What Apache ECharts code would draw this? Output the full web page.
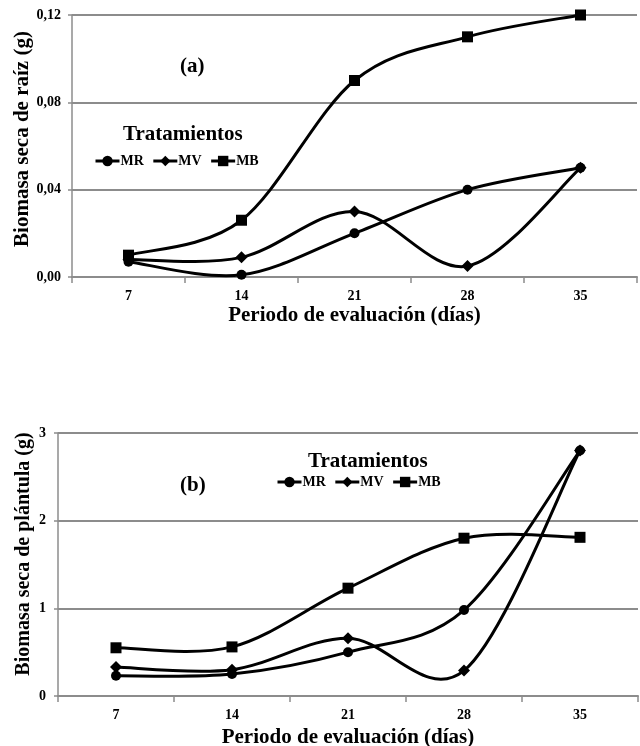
<!DOCTYPE html>
<html>
<head>
<meta charset="utf-8">
<script src="https://cdn.jsdelivr.net/npm/echarts@6/dist/echarts.min.js"></script>
<style>
html,body{margin:0;padding:0;background:#fff;}
#chart{width:640px;height:746px;}
</style>
</head>
<body>
<div id="chart"></div>
<script>
var categories = ['7', '14', '21', '28', '35'];
var seriesNames = ['MR', 'MV', 'MB'];
// (a) Biomasa seca de raíz (g)
var raizMR = [0.007, 0.001, 0.020, 0.040, 0.050];
var raizMV = [0.008, 0.009, 0.030, 0.005, 0.050];
var raizMB = [0.010, 0.026, 0.090, 0.110, 0.120];
// (b) Biomasa seca de plántula (g)
var plantMR = [0.23, 0.25, 0.50, 0.98, 2.80];
var plantMV = [0.33, 0.30, 0.66, 0.29, 2.80];
var plantMB = [0.55, 0.56, 1.23, 1.80, 1.81];

var FONT = '"Liberation Serif", "Times New Roman", serif';
var GRID_COLOR = '#8c8c8c';
var symbols = {MR: 'circle', MV: 'diamond', MB: 'rect'};
var symbolSizes = {MR: 10, MV: 12, MB: 11};

function xAxis(gridIndex, nameGap) {
  return {
    type: 'category', gridIndex: gridIndex, data: categories, boundaryGap: true,
    axisLine: {lineStyle: {color: GRID_COLOR, width: 2}},
    axisTick: {show: true, length: 6, lineStyle: {color: GRID_COLOR, width: 1.5}},
    axisLabel: {color: '#000', fontFamily: FONT, fontWeight: 'bold', fontSize: 14, margin: 12},
    name: 'Periodo de evaluación (días)', nameLocation: 'middle', nameGap: nameGap,
    nameTextStyle: {color: '#000', fontFamily: FONT, fontWeight: 'bold', fontSize: 21}
  };
}
function yAxis(gridIndex, max, interval, fmt, labelMargin) {
  return {
    type: 'value', gridIndex: gridIndex, min: 0, max: max, interval: interval,
    axisLine: {show: true, lineStyle: {color: GRID_COLOR, width: 1.5}},
    axisTick: {show: true, length: 4, lineStyle: {color: GRID_COLOR, width: 1.5}},
    splitLine: {show: true, lineStyle: {color: GRID_COLOR, width: 2}},
    axisLabel: {color: '#000', fontFamily: FONT, fontWeight: 'bold', fontSize: 14, margin: labelMargin, formatter: fmt}
  };
}
function markerSeries(name, data, idx) {
  return {
    name: name, type: 'line', xAxisIndex: idx, yAxisIndex: idx, data: data,
    symbol: symbols[name], symbolSize: symbolSizes[name],
    lineStyle: {color: '#000', width: 3, opacity: 0}, itemStyle: {color: '#000'},
    z: 4
  };
}
// Smooth curve (Catmull-Rom, like a spreadsheet "smoothed line") drawn through the axis scales
function curveSeries(name, data, idx) {
  return {
    name: name + ' curve', type: 'custom', xAxisIndex: idx, yAxisIndex: idx,
    data: data.map(function(v, i){ return [i, v]; }),
    encode: {x: 0, y: 1},
    z: 3, silent: true,
    renderItem: function(params, api) {
      if (params.dataIndex !== 0) return null;
      var pts = data.map(function(v, i){ return api.coord([i, v]); });
      var n = pts.length;
      var d = 'M' + pts[0][0] + ',' + pts[0][1];
      for (var i = 0; i < n - 1; i++) {
        var p0 = pts[Math.max(i - 1, 0)], p1 = pts[i], p2 = pts[i + 1], p3 = pts[Math.min(i + 2, n - 1)];
        var c1x = p1[0] + (p2[0] - p0[0]) / 6, c1y = p1[1] + (p2[1] - p0[1]) / 6;
        var c2x = p2[0] - (p3[0] - p1[0]) / 6, c2y = p2[1] - (p3[1] - p1[1]) / 6;
        d += ' C' + c1x + ',' + c1y + ' ' + c2x + ',' + c2y + ' ' + p2[0] + ',' + p2[1];
      }
      return {type: 'path', shape: {pathData: d}, style: {fill: null, stroke: '#000', lineWidth: 3}};
    }
  };
}
function legend(left, top) {
  return {
    data: seriesNames.map(function(n){return {name: n};}), left: left, top: top,
    itemWidth: 24, itemHeight: 13, itemGap: 8, padding: 0,
    lineStyle: {color: '#000', width: 3, opacity: 1, type: 'solid'},
    textStyle: {fontFamily: FONT, fontWeight: 'bold', fontSize: 14, color: '#000', padding: [0, 0, 0, -4]}
  };
}
function yName(text, x, y, size) {
  return {
    type: 'text', x: x, y: y, rotation: Math.PI / 2, silent: true,
    style: {text: text, font: 'bold ' + size + 'px ' + FONT, fill: '#000', align: 'center', verticalAlign: 'middle'}
  };
}
var titleStyle = {fontFamily: FONT, fontWeight: 'bold', fontSize: 21, color: '#000'};
var option = {
  animation: false,
  backgroundColor: '#fff',
  grid: [
    {left: 72, right: 3, top: 15, height: 262, outerBoundsMode: 'none', containLabel: false},
    {left: 58, right: 2, top: 433, height: 263, outerBoundsMode: 'none', containLabel: false}
  ],
  title: [
    {text: '(a)', left: 175, top: 51, textStyle: titleStyle},
    {text: 'Tratamientos', left: 118, top: 119, textStyle: titleStyle},
    {text: '(b)', left: 175, top: 470, textStyle: titleStyle},
    {text: 'Tratamientos', left: 303, top: 446, textStyle: titleStyle}
  ],
  graphic: [
    yName('Biomasa seca de raíz (g)', 23, 139, 21),
    yName('Biomasa seca de plántula (g)', 24, 554, 20)
  ],
  legend: [legend(94, 154), legend(276, 475)],
  xAxis: [xAxis(0, 28), xAxis(1, 31)],
  yAxis: [
    yAxis(0, 0.12, 0.04, function(v){return v.toFixed(2).replace('.', ',');}, 11),
    yAxis(1, 3, 1, function(v){return String(v);}, 12)
  ],
  series: [
    curveSeries('MR', raizMR, 0), curveSeries('MV', raizMV, 0), curveSeries('MB', raizMB, 0),
    markerSeries('MR', raizMR, 0), markerSeries('MV', raizMV, 0), markerSeries('MB', raizMB, 0),
    curveSeries('MR', plantMR, 1), curveSeries('MV', plantMV, 1), curveSeries('MB', plantMB, 1),
    markerSeries('MR', plantMR, 1), markerSeries('MV', plantMV, 1), markerSeries('MB', plantMB, 1)
  ]
};
var chart = echarts.init(document.getElementById('chart'), null, {renderer: 'canvas'});
chart.setOption(option);
</script>
</body>
</html>
